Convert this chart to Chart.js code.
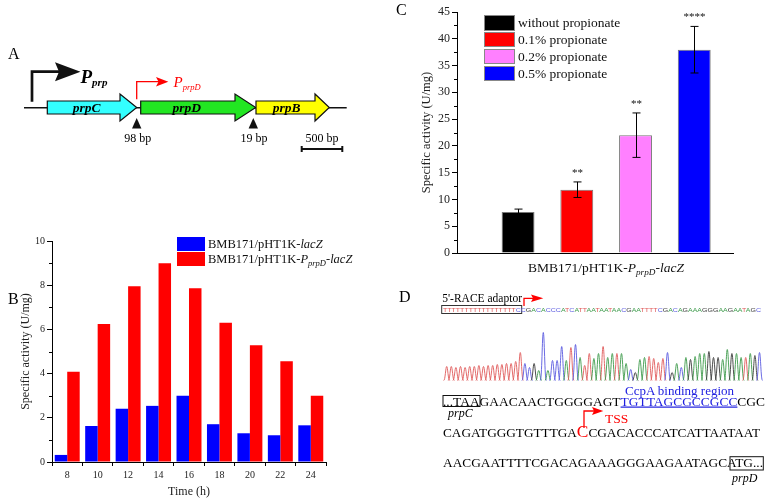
<!DOCTYPE html>
<html>
<head>
<meta charset="utf-8">
<script src="https://cdn.jsdelivr.net/npm/chart.js@4.4.1/dist/chart.umd.min.js"></script>
<style>
  body { margin:0; background:#fff; width:767px; height:501px; overflow:hidden; position:relative;
         font-family:"Liberation Serif","Times New Roman",serif; color:#111; }
  #wrapB { position:absolute; left:0; top:225px; width:345px; height:276px; }
  #wrapC { position:absolute; left:380px; top:0; width:387px; height:290px; }
  #art { position:absolute; left:0; top:0; }
  .leg { position:absolute; white-space:nowrap; }
  .leg span.sw { position:absolute; }
  .leg span.tx { position:absolute; line-height:1; }
  sub { font-size:0.68em; vertical-align:-0.3em; line-height:0; }
</style>
</head>
<body>
<div id="wrapB"><canvas id="chartB" width="345" height="276"></canvas></div>
<div id="wrapC"><canvas id="chartC" width="387" height="290"></canvas></div>
<div id="legB"></div>
<div id="legC"></div>
<div id="titleC" style="position:absolute;left:528px;top:260px;font-size:13.5px;line-height:16px;white-space:nowrap">BMB171/pHT1K-<i>P</i><sub><i>prpD</i></sub>-<i>lacZ</i></div>

<svg id="art" width="767" height="501" font-family="Liberation Serif, Times New Roman, serif">
  <!-- panel letters -->
  <text x="8" y="59" font-size="16">A</text>
  <text x="8" y="304" font-size="16">B</text>
  <text x="396" y="15" font-size="16">C</text>
  <text x="399" y="302" font-size="16">D</text>

  <!-- A: operon map -->
  <line x1="24" y1="107.7" x2="346.7" y2="107.7" stroke="#111" stroke-width="1.5"/>
  <polygon points="47.3,101 120,101 120,94 136.7,107.5 120,121 120,114 47.3,114" fill="#33ffff" stroke="#111" stroke-width="1.2"/>
  <polygon points="140.7,101 235,101 235,94 255.7,107.5 235,121 235,114 140.7,114" fill="#22e622" stroke="#111" stroke-width="1.2"/>
  <polygon points="256,101 315,101 315,94 329.3,107.5 315,121 315,114 256,114" fill="#ffff00" stroke="#111" stroke-width="1.2"/>
  <g font-weight="bold" font-style="italic" font-size="13.5" text-anchor="middle">
    <text x="86.7" y="112">prpC</text>
    <text x="186.7" y="112">prpD</text>
    <text x="286.7" y="112">prpB</text>
  </g>
  <polygon points="136.7,118 132,128.5 141.4,128.5" fill="#111"/>
  <polygon points="253.3,118 248.6,128.5 258,128.5" fill="#111"/>
  <g font-size="12" text-anchor="middle">
    <text x="137.7" y="141.5">98 bp</text>
    <text x="254" y="141.5">19 bp</text>
    <text x="322" y="142">500 bp</text>
  </g>
  <path d="M301.7,149H342.3M301.7,146V152M342.3,146V152" stroke="#111" stroke-width="2"/>
  <polyline points="32,101.7 32,71.7 62,71.7" fill="none" stroke="#111" stroke-width="2.7"/>
  <polygon points="55,62.3 80.5,71.7 55,81.2 59,71.7" fill="#111"/>
  <text x="80.5" y="83" font-weight="bold" font-style="italic" font-size="19">P<tspan font-size="11" dy="3">prp</tspan></text>
  <polyline points="136.7,99.3 136.7,81.7 160,81.7" fill="none" stroke="#f00" stroke-width="1.3"/>
  <polygon points="156,77 168.3,81.7 156,86.4 158.5,81.7" fill="#f00"/>
  <text x="173.5" y="86.5" fill="#f00" font-style="italic" font-size="15">P<tspan font-size="8.5" dy="3.5">prpD</tspan></text>

  <!-- D: 5'-RACE -->
  <text x="442.3" y="302" font-size="11.5">5'-RACE adaptor</text>
  <rect x="441.7" y="305.5" width="80" height="8" fill="none" stroke="#333" stroke-width="1"/>
  <polyline points="524,306 524,298.3 533,298.3" fill="none" stroke="#f00" stroke-width="1.3"/>
  <polygon points="531,294.5 543.3,298.3 531,302 533,298.3" fill="#f00"/>
  <text id="smallSeq" x="443" y="312.3" font-size="6" font-family="Liberation Sans, Arial, sans-serif" textLength="318" lengthAdjust="spacingAndGlyphs"></text>
  <g id="trace" fill="none" stroke-width="0.9"></g>

  <text x="625" y="395" font-size="13" fill="#2020e0">CcpA binding region</text>
  <text x="443" y="405.5" font-size="12.2" textLength="322" lengthAdjust="spacingAndGlyphs">...TAAGAACAACTGGGGAGT<tspan fill="#2020e0" text-decoration="underline">TGTTAGCGCCGCC</tspan>CGC</text>
  <rect x="443" y="395.5" width="37" height="11" fill="none" stroke="#111" stroke-width="1"/>
  <text x="448" y="417" font-size="12" font-style="italic">prpC</text>

  <polyline points="584,428 584,411 594,411" fill="none" stroke="#f00" stroke-width="1.3"/>
  <polygon points="592,407 603.3,411 592,415 594,411" fill="#f00"/>
  <text x="605" y="423" font-size="13.5" fill="#f00">TSS</text>
  <text x="443" y="437" font-size="12.2" textLength="317" lengthAdjust="spacingAndGlyphs">CAGATGGGTGTTTGA<tspan fill="#f00" font-size="16">C</tspan>CGACACCCATCATTAATAAT</text>

  <text x="443" y="467" font-size="12.2" textLength="320" lengthAdjust="spacingAndGlyphs">AACGAATTTTCGACAGAAAGGGAAGAATAGCATG...</text>
  <rect x="730" y="456.7" width="33.3" height="13.3" fill="none" stroke="#111" stroke-width="1"/>
  <text x="732" y="482" font-size="12" font-style="italic">prpD</text>
</svg>

<script>
// ---- panel B: time course ----
const timeLabels = ['8', '10', '12', '14', '16', '18', '20', '22', '24'];
const lacZ = [0.32, 1.63, 2.41, 2.54, 3.0, 1.71, 1.30, 1.21, 1.66];
const prpDlacZ = [4.08, 6.24, 7.95, 8.99, 7.86, 6.30, 5.28, 4.56, 3.0];
const seriesNames = ['BMB171/pHT1K-<i>lacZ</i>', 'BMB171/pHT1K-<i>P</i><sub><i>prpD</i></sub>-<i>lacZ</i>'];
const seriesColors = ['#0000ff', '#ff0000'];

// ---- panel C: propionate induction ----
const conditions = ['without propionate', '0.1% propionate', '0.2% propionate', '0.5% propionate'];
const activity = [7.65, 11.82, 22.0, 37.96];
const activityErr = [0.55, 1.45, 4.15, 4.35];
const stars = ['', '**', '**', '****'];
const conditionColors = ['#000000', '#ff0000', '#ff80ff', '#0000ff'];

// ---- panel D: sequencing trace ----
const traceBases = 'TTTTTTTTTTTTTTTTT' + 'CCGACACCCATCATTAATAATAACGAATTTTCGACAGAAAGGGAAGAATAGC';
const traceHeights = [14, 14, 13, 14, 13, 14, 14, 15, 14, 15, 15, 16, 16, 17, 17, 19, 28,
  17, 13, 17, 10, 48, 10, 20, 20, 34, 20, 33, 36, 23, 15, 27, 22, 27, 34, 23, 27, 27, 27, 17, 11,
  8, 21, 23, 24, 22, 18, 22, 28, 8, 17, 13, 23, 21, 24, 27, 27, 29, 23, 23, 21, 31, 27, 27, 23,
  23, 27, 25, 28];
const baseColors = { A: '#3c9a4a', C: '#5a5ae0', G: '#3a3a3a', T: '#e05a5a' };

const serif = '"Liberation Serif","Times New Roman",serif';

const minorTicks = {
  id: 'minorTicks',
  afterDraw(chart, args, opts) {
    const y = chart.scales.y, ctx = chart.ctx;
    ctx.save();
    ctx.strokeStyle = '#000';
    ctx.lineWidth = 1;
    const n = Math.round((y.max - y.min) / opts.step);
    for (let i = 1; i < n; i += 2) {
      const py = Math.round(y.getPixelForValue(y.min + i * opts.step)) + 0.5;
      ctx.beginPath();
      ctx.moveTo(y.right - opts.len, py);
      ctx.lineTo(y.right, py);
      ctx.stroke();
    }
    ctx.restore();
  }
};

new Chart(document.getElementById('chartB'), {
  type: 'bar',
  data: {
    labels: timeLabels,
    datasets: [
      { label: 'lacZ', data: lacZ, backgroundColor: seriesColors[0] },
      { label: 'PprpD-lacZ', data: prpDlacZ, backgroundColor: seriesColors[1] }
    ]
  },
  options: {
    responsive: false, animation: false, devicePixelRatio: 1,
    layout: { padding: { top: 16, right: 19, bottom: 0, left: 0 } },
    datasets: { bar: { categoryPercentage: 0.82, barPercentage: 1 } },
    plugins: { legend: { display: false }, tooltip: { enabled: false }, minorTicks: { step: 1, len: 3 } },
    scales: {
      x: {
        grid: { drawOnChartArea: false, tickLength: 4, color: '#000' },
        border: { color: '#000' },
        ticks: { font: { family: serif, size: 10 }, color: '#222', padding: 3, maxRotation: 0 },
        title: { display: true, text: 'Time (h)', font: { family: serif, size: 12 }, color: '#222', padding: { top: 0, bottom: 2 } },
        afterFit(s) { s.height = 39; }
      },
      y: {
        min: 0, max: 10,
        ticks: { stepSize: 2, font: { family: serif, size: 10 }, color: '#222', padding: 2 },
        grid: { drawOnChartArea: false, tickLength: 5, color: '#000' },
        border: { color: '#000' },
        title: { display: true, text: 'Specific activity (U/mg)', font: { family: serif, size: 12 }, color: '#222', padding: { top: 19, bottom: 0 } },
        afterFit(s) { s.width = 52; }
      }
    }
  },
  plugins: [minorTicks]
});

const errorBars = {
  id: 'errorBars',
  afterDatasetsDraw(chart) {
    const meta = chart.getDatasetMeta(0), y = chart.scales.y, ctx = chart.ctx;
    ctx.save();
    ctx.strokeStyle = '#000';
    ctx.lineWidth = 1;
    ctx.fillStyle = '#111';
    ctx.font = '11px ' + serif;
    ctx.textAlign = 'center';
    meta.data.forEach((bar, i) => {
      const hi = y.getPixelForValue(activity[i] + activityErr[i]);
      const lo = y.getPixelForValue(activity[i] - activityErr[i]);
      const x = Math.round(bar.x) + 0.5;
      ctx.beginPath();
      ctx.moveTo(x, hi); ctx.lineTo(x, lo);
      ctx.moveTo(x - 4, hi); ctx.lineTo(x + 4, hi);
      ctx.moveTo(x - 4, lo); ctx.lineTo(x + 4, lo);
      ctx.stroke();
      if (stars[i]) ctx.fillText(stars[i], x, hi - 6);
    });
    ctx.restore();
  }
};

new Chart(document.getElementById('chartC'), {
  type: 'bar',
  data: {
    datasets: [{
      label: 'BMB171/pHT1K-PprpD-lacZ',
      data: activity.map((v, i) => ({ x: i + 1, y: v })),
      backgroundColor: conditionColors,
      borderColor: '#777',
      borderWidth: 1
    }]
  },
  options: {
    responsive: false, animation: false, devicePixelRatio: 1,
    layout: { padding: { top: 12, right: 34, bottom: 0, left: 0 } },
    datasets: { bar: { categoryPercentage: 1, barPercentage: 0.56 } },
    plugins: { legend: { display: false }, tooltip: { enabled: false }, minorTicks: { step: 2.5, len: 3 } },
    scales: {
      x: {
        type: 'linear', min: -0.04, max: 4.66, offset: false,
        ticks: { display: false, stepSize: 1, includeBounds: false },
        grid: { drawOnChartArea: false, drawTicks: false },
        border: { color: '#000' },
        afterFit(s) { s.height = 37; }
      },
      y: {
        min: 0, max: 45,
        ticks: { stepSize: 5, font: { family: serif, size: 12 }, color: '#222', padding: 2 },
        grid: { drawOnChartArea: false, tickLength: 5, color: '#000' },
        border: { color: '#000' },
        title: { display: true, text: 'Specific activity (U/mg)', font: { family: serif, size: 12.5 }, color: '#222', padding: { top: 39, bottom: 0 } },
        afterFit(s) { s.width = 77; }
      }
    }
  },
  plugins: [minorTicks, errorBars]
});

// legends (HTML so that italics and subscripts stay real text)
function legend(el, names, colors, o) {
  names.forEach((name, i) => {
    const top = o.top + i * o.pitch;
    el.insertAdjacentHTML('beforeend',
      `<div class="leg" style="left:${o.left}px;top:${top}px;font-size:${o.font}px">` +
      `<span class="sw" style="left:0;top:0;width:${o.w}px;height:${o.h}px;background:${colors[i]};` +
      `box-sizing:border-box;border:1px solid ${o.border || colors[i]}"></span>` +
      `<span class="tx" style="left:${o.w + 3}px;top:${(o.h - o.font) / 2}px">${name}</span></div>`);
  });
}
legend(document.getElementById('legB'), seriesNames, seriesColors, { left: 177, top: 237, pitch: 15.3, w: 28, h: 14, font: 12.5 });
legend(document.getElementById('legC'), conditions, conditionColors, { left: 484, top: 15, pitch: 16.9, w: 31, h: 15.5, font: 13.5, border: '#888' });

// panel D: small base calls and the trace
const NS = 'http://www.w3.org/2000/svg';
const smallSeq = document.getElementById('smallSeq');
[...traceBases].forEach(b => {
  const t = document.createElementNS(NS, 'tspan');
  t.setAttribute('fill', baseColors[b]);
  t.textContent = b;
  smallSeq.appendChild(t);
});
const trace = document.getElementById('trace');
const base = 380.5;
traceHeights.forEach((h, i) => {
  const x = 446.7 + i * 4.6, top = base - h;
  const p = document.createElementNS(NS, 'path');
  p.setAttribute('d', `M${x - 3},${base} C${x - 1.4},${base} ${x - 1.1},${top} ${x},${top} C${x + 1.1},${top} ${x + 1.4},${base} ${x + 3},${base}`);
  p.setAttribute('stroke', baseColors[traceBases[i]]);
  trace.appendChild(p);
});
</script>
</body>
</html>
